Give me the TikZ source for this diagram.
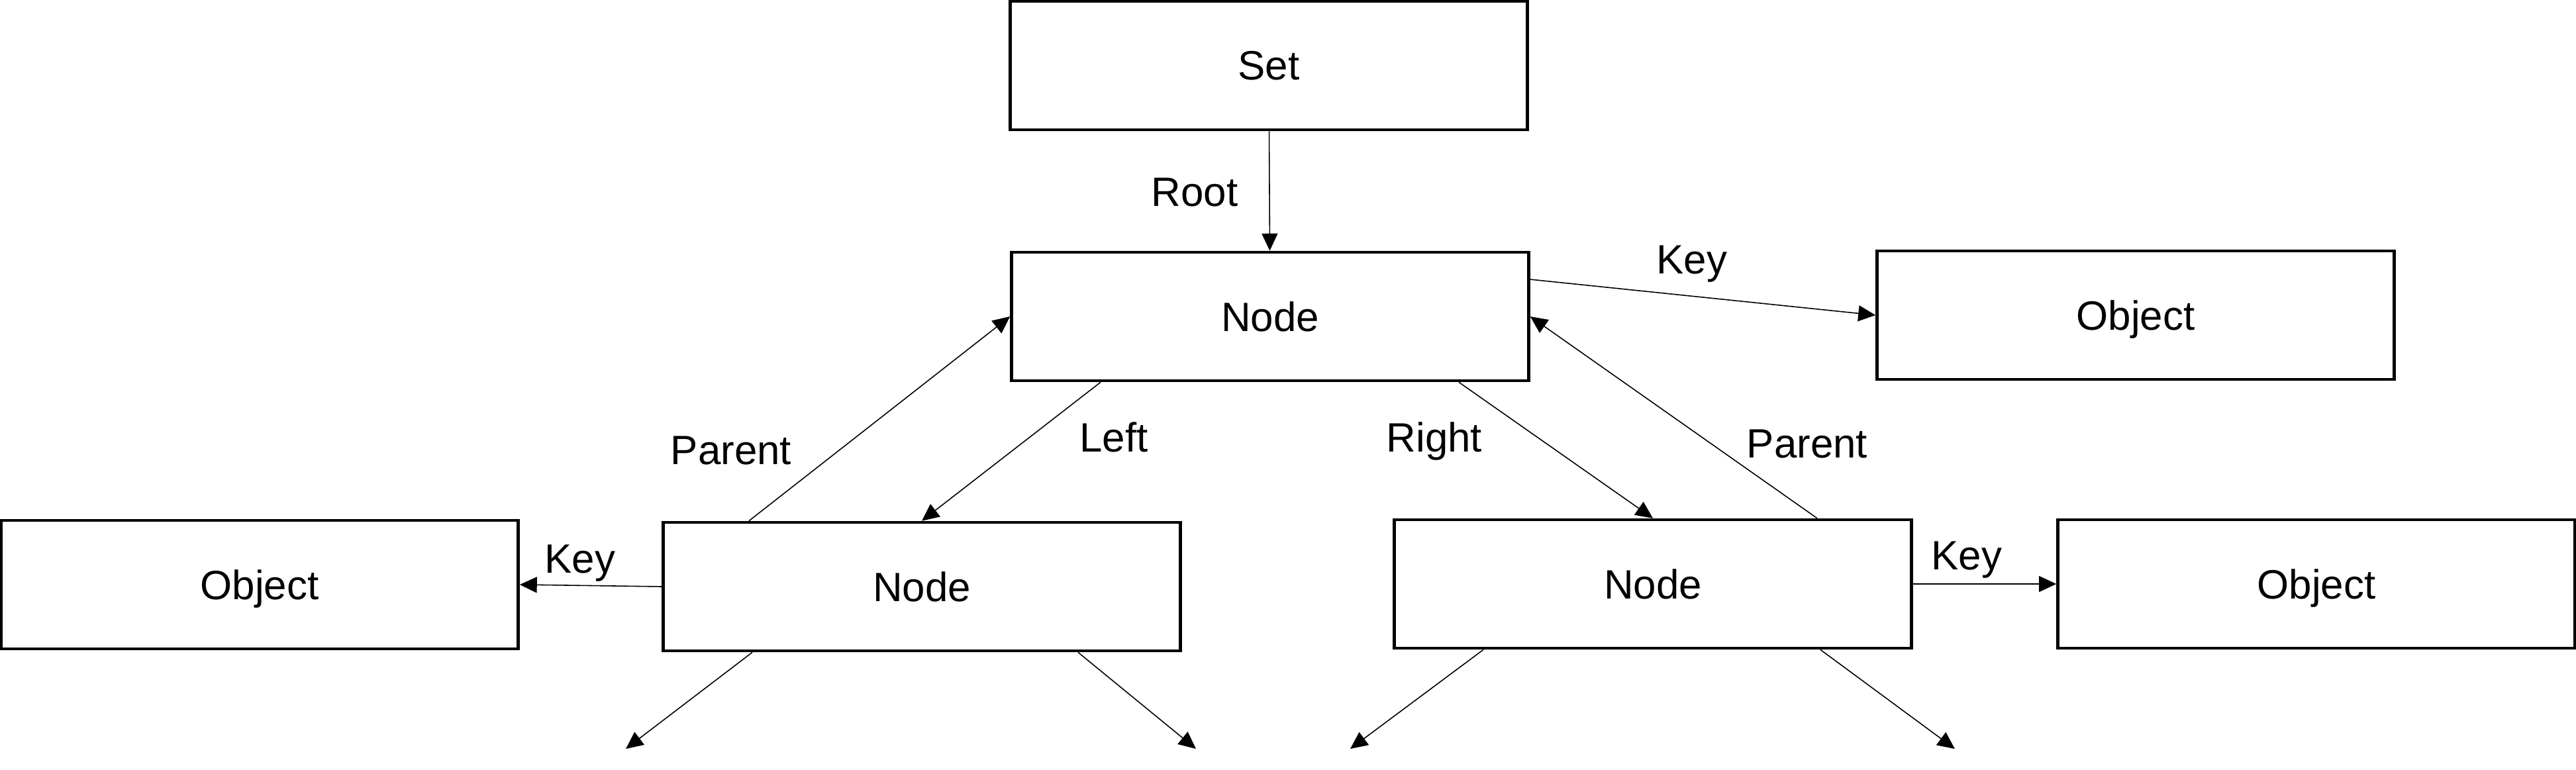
\documentclass[tikz,border=0pt]{standalone}
\usepackage{fontspec}
\setmainfont{Liberation Sans}
\usetikzlibrary{arrows.meta}
\pgfdeclarelayer{nodelayer}
\pgfdeclarelayer{edgelayer}
\pgfsetlayers{edgelayer,nodelayer,main}
\tikzstyle{box}=[fill=white, draw=black, line width=1.3pt, shape=rectangle, minimum width=7.81cm, minimum height=1.94cm, text depth=0pt, font=\fontsize{17.6}{21}\selectfont]
\tikzstyle{label}=[text depth=0pt, font=\fontsize{17.6}{21}\selectfont]
\tikzstyle{directed edge}=[line width=0.45pt, -{Triangle[length=0.26cm, width=0.24cm]}]

\begin{document}
\begin{tikzpicture}
	\useasboundingbox (0, 0) rectangle (38.9, -11.63);
	\begin{pgfonlayer}{nodelayer}
		\node [style=box] (0) at (19.16, -0.99) {Set};
		\node [style=box] (1) at (19.18, -4.78) {Node};
		\node [style=box] (2) at (32.25, -4.76) {Object};
		\node [style=box] (3) at (13.92, -8.86) {Node};
		\node [style=box] (4) at (24.96, -8.82) {Node};
		\node [style=box] (5) at (3.92, -8.83) {Object};
		\node [style=box] (6) at (34.98, -8.82) {Object};
		\node [style=label] (7) at (18.04, -2.90) {Root};
		\node [style=label] (8) at (25.55, -3.92) {Key};
		\node [style=label] (9) at (11.04, -6.80) {Parent};
		\node [style=label] (10) at (16.82, -6.60) {Left};
		\node [style=label] (11) at (21.66, -6.60) {Right};
		\node [style=label] (12) at (27.29, -6.70) {Parent};
		\node [style=label] (13) at (8.76, -8.44) {Key};
		\node [style=label] (14) at (29.70, -8.39) {Key};
		\coordinate (15) at (9.45, -11.31);
		\coordinate (16) at (18.06, -11.31);
		\coordinate (17) at (20.39, -11.31);
		\coordinate (18) at (29.52, -11.31);
	\end{pgfonlayer}
	\begin{pgfonlayer}{edgelayer}
		\draw [style=directed edge] (0) to (1);
		\draw [style=directed edge] ([yshift=0.56cm]1.east) to (2.west);
		\draw [style=directed edge] ([xshift=-2.61cm]3.north) to (1.west);
		\draw [style=directed edge] ([xshift=-2.56cm]1.south) to (3.north);
		\draw [style=directed edge] ([xshift=2.85cm]1.south) to (4.north);
		\draw [style=directed edge] ([xshift=2.48cm]4.north) to (1.east);
		\draw [style=directed edge] (3.west) to (5.east);
		\draw [style=directed edge] (4.east) to (6.west);
		\draw [style=directed edge] ([xshift=-2.56cm]3.south) to (15);
		\draw [style=directed edge] ([xshift=2.36cm]3.south) to (16);
		\draw [style=directed edge] ([xshift=-2.56cm]4.south) to (17);
		\draw [style=directed edge] ([xshift=2.53cm]4.south) to (18);
	\end{pgfonlayer}
\end{tikzpicture}
\end{document}
